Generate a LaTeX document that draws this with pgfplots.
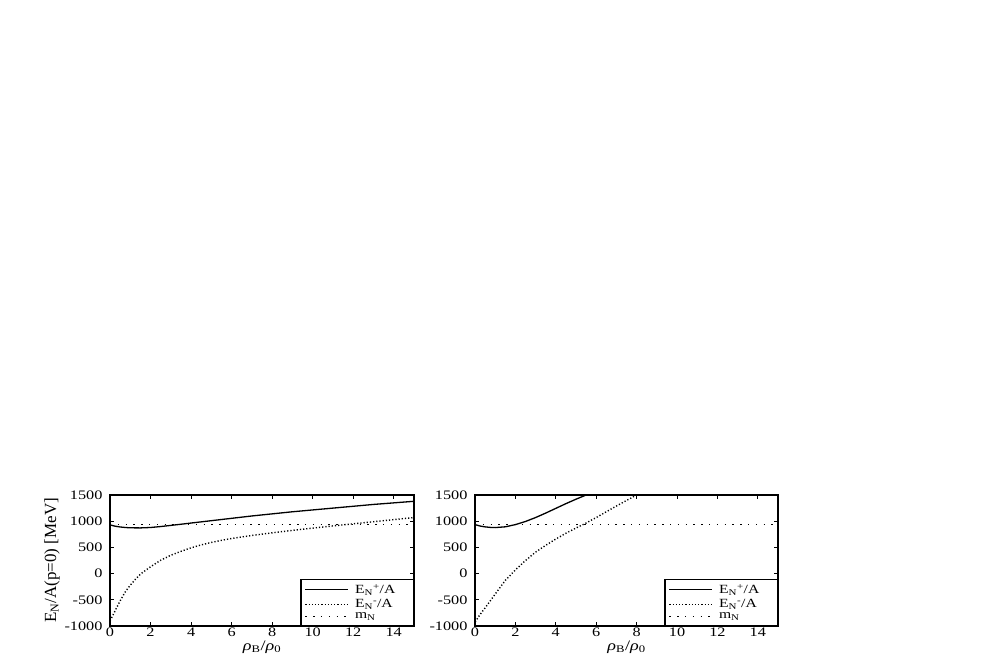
\documentclass[border=0pt]{standalone}
\usepackage{fontspec}
\setmainfont{Liberation Serif}
\newfontfamily\wide[FakeStretch=1.25]{Liberation Serif}
\usepackage{pgfplots}
\pgfplotsset{compat=1.18}
\pgfplotsset{
  myaxis/.style={
    scale only axis,
    width=303pt, height=131pt,
    xmin=0, xmax=15, ymin=-1000, ymax=1500,
    xtick={0,2,...,14},
    ytick={-1000,-500,0,500,1000,1500},
    tick align=inside,
    major tick length=4pt,
    every tick/.style={line width=0.8pt, black},
    axis line style={line width=1.4pt},
    /pgf/number format/assume math mode=true,
    /pgf/number format/1000 sep={},
    tick label style={font=\wide\fontsize{13}{14}\selectfont},
    yticklabel style={xshift=-4pt},
    xticklabel style={yshift=1.5pt},
    xlabel={\textit{ρ}\textsubscript{B}/\textit{ρ}\textsubscript{0}},
    xlabel style={font=\wide\fontsize{14.5}{14.5}\selectfont, yshift=3pt},
    clip=true,
    legend style={at={(1,0)}, anchor=south east, draw=black, line width=1.4pt,
      font=\wide\fontsize{12.5}{12.5}\selectfont, inner xsep=4pt, inner ysep=3pt,
      row sep=0pt, cells={anchor=west}},
    legend image code/.code={\draw[##1, line width=0.9pt] (2pt,0pt) -- (45pt,0pt); \path (49pt,0pt);},
  },
  ep/.style={black, line width=1.3pt},
  em/.style={black, line width=1.4pt, dash pattern=on 1.2pt off 2.0pt},
  mn/.style={black, line width=1.4pt, dash pattern=on 1.4pt off 6.4pt},
}
\begin{document}
\begin{tikzpicture}
\path[use as bounding box] (0pt,0pt) rectangle (981pt,654pt);
\begin{axis}[myaxis, at={(110pt,28pt)}, anchor=south west,
  width=304pt,
  ylabel={E\textsubscript{N}/A(p=0) [MeV]},
  ylabel style={font=\fontsize{17}{17}\selectfont, yshift=-2pt}]
\addplot[ep] coordinates {
(0,930) (0.25,905) (0.5,890) (0.75,880) (1,874) (1.5,872) (2,880) (2.5,898) (3,920) (3.5,942) (4,965) (5,1010) (6,1055) (7,1100) (8,1140) (9,1180) (10,1215) (11,1250) (12,1285) (13,1320) (14,1350) (15,1380)};
\addlegendentry{E\textsubscript{N}\textsuperscript{+}/A\hspace*{12pt}}
\addplot[em] coordinates {
(0,-900) (0.1,-830) (0.25,-710) (0.33,-647) (0.5,-520) (0.75,-350) (1,-220) (1.25,-110) (1.5,-10) (2,130) (2.5,255) (3,350) (3.5,425) (4,492) (4.5,548) (5,595) (5.5,635) (6,670) (7,728) (8,778) (9,825) (10,868) (11,910) (12,950) (13,990) (14,1030) (15,1070)};
\addlegendentry{E\textsubscript{N}\textsuperscript{-}/A}
\addplot[mn] coordinates {(0,939) (15,939)};
\addlegendentry{m\textsubscript{N}}
\end{axis}
\begin{axis}[myaxis, at={(475pt,28pt)}, anchor=south west]
\addplot[ep] coordinates {
(0,935) (0.25,908) (0.5,892) (0.75,882) (1,878) (1.5,893) (2,935) (2.5,995) (3,1070) (3.5,1155) (4,1245) (4.5,1335) (5,1420) (5.5,1500) (5.6,1515)};
\addlegendentry{E\textsubscript{N}\textsuperscript{+}/A\hspace*{12pt}}
\addplot[em] coordinates {
(0,-920) (0.05,-900) (0.25,-780) (0.5,-655) (1,-390) (1.5,-130) (2,70) (2.5,250) (3,410) (3.5,540) (4,660) (4.5,770) (5,870) (5.5,965) (6,1070) (6.5,1180) (7,1290) (7.5,1395) (8,1500) (8.1,1520)};
\addlegendentry{E\textsubscript{N}\textsuperscript{-}/A}
\addplot[mn] coordinates {(0,939) (15,939)};
\addlegendentry{m\textsubscript{N}}
\end{axis}
\end{tikzpicture}
\end{document}
